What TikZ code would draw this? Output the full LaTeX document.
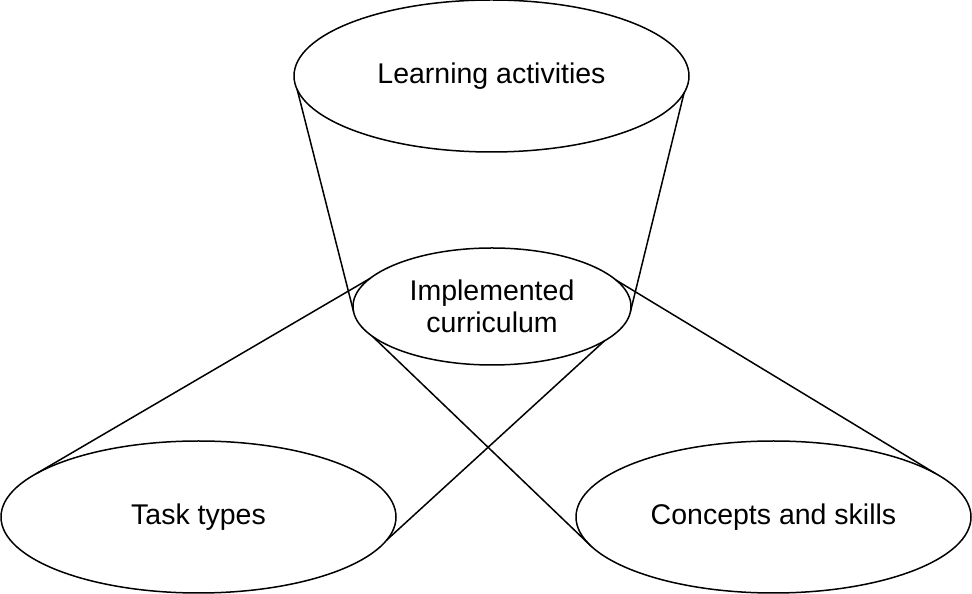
\documentclass[tikz,border=0pt]{standalone}
\usepackage{fontspec}
\setmainfont{Liberation Sans}
\usetikzlibrary{shapes.geometric}
\begin{document}
\begin{tikzpicture}[x=1pt,y=1pt, line join=round, line cap=round,
    oval/.style={draw,ellipse,line width=1.5pt,inner sep=0pt,outer sep=0pt,
      font=\fontsize{28.5}{32}\selectfont,align=center},
    big/.style={oval,minimum width=395pt,minimum height=152pt},
    tie/.style={line width=1.5pt}]
    \useasboundingbox (0,0) rectangle (972,594);
    \node[big] (act) at (491.5,518) {Learning activities};
    \node[oval,minimum width=278pt,minimum height=117pt] (cur) at (492,287.5) {Implemented\\curriculum};
    \node[big] (task) at (198.5,77) {Task types};
    \node[big] (skill) at (773.5,77) {Concepts and skills};
    % funnel from the top
    \draw[tie] (act.184)--(cur.182) (act.355)--(cur.358);
    % crossing ties to the bottom ovals
    \draw[tie] (task.165)--(cur.167) (task.353)--(cur.343);
    \draw[tie] (skill.15)--(cur.12) (skill.189)--(cur.194);
\end{tikzpicture}
\end{document}
